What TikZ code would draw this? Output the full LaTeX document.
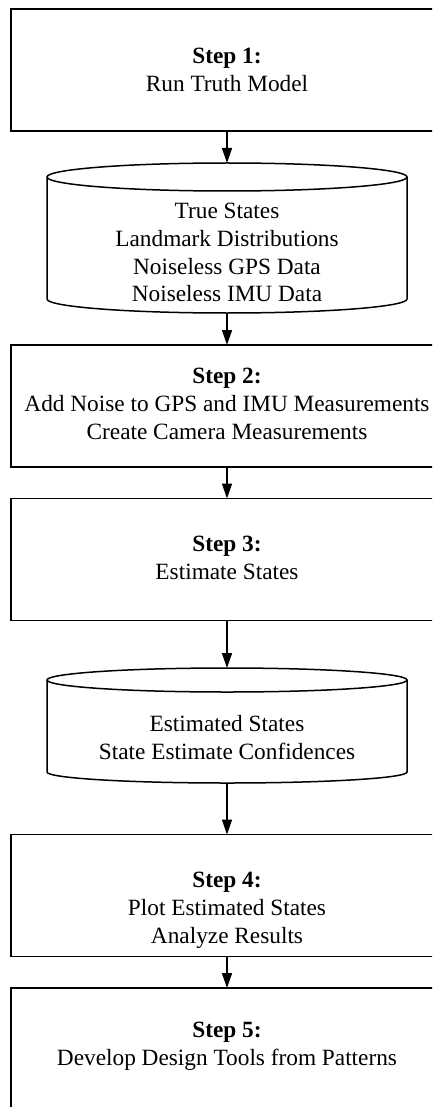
\documentclass[tikz,border=0pt]{standalone}
\usepackage{fontspec}
\setmainfont{Liberation Serif}
\usetikzlibrary{arrows.meta}
\begin{document}
\begin{tikzpicture}[x=1pt,y=1pt,
  boxnode/.style={draw=black,line width=1.5pt,minimum width=432pt,minimum height=122pt,inner sep=0pt,outer sep=0pt},
  cylframe/.style={inner sep=0pt,outer sep=0pt},
  cylline/.style={draw=black,line width=1.5pt},
  txt/.style={align=center,font=\fontsize{23.3}{27.8}\selectfont,inner sep=0pt},
  flow/.style={line width=1.5pt,-{Triangle[length=15pt,width=10pt]}}]
\useasboundingbox (0,0) rectangle (432,-1107);
\clip (0,0) rectangle (432,-1107);
% boxes
\node[boxnode] (b1) at (227,-70) {};
\node[boxnode] (b2) at (227,-406) {};
\node[boxnode] (b3) at (227,-559.5) {};
\node[boxnode] (b4) at (227,-895.5) {};
\node[boxnode] (b5) at (227,-1049) {};
% cylinders (frames used as anchors)
\node[cylframe,minimum width=360pt,minimum height=150pt] (c1) at (227,-238) {};
\node[cylframe,minimum width=360pt,minimum height=115pt] (c2) at (227,-725.5) {};
\draw[cylline] (47,-177) -- (47,-299) arc[start angle=180,end angle=360,x radius=180,y radius=14] -- (407,-177);
\draw[cylline] (227,-177) ellipse[x radius=180,y radius=14];
\draw[cylline] (47,-680) -- (47,-772) arc[start angle=180,end angle=360,x radius=180,y radius=11] -- (407,-680);
\draw[cylline] (227,-680) ellipse[x radius=180,y radius=12];
% texts
\node[txt] (t1) at (227,-70) {\textbf{Step 1:}\\Run Truth Model};
\node[txt] (tc1) at (227,-252.5) {True States\\Landmark Distributions\\Noiseless GPS Data\\Noiseless IMU Data};
\node[txt] (t2) at (227,-404) {\textbf{Step 2:}\\Add Noise to GPS and IMU Measurements\\Create Camera Measurements};
\node[txt] (t3) at (227,-558) {\textbf{Step 3:}\\Estimate States};
\node[txt] (tc2) at (227,-737.5) {Estimated States\\State Estimate Confidences};
\node[txt] (t4) at (227,-910.5) {\textbf{Step 4:}\\Plot Estimated States\\Analyze Results};
\node[txt] (t5) at (227,-1046) {\textbf{Step 5:}\\Develop Design Tools from Patterns};
% connectors
\draw[flow] (b1.south) -- (c1.north);
\draw[flow] (c1.south) -- (b2.north);
\draw[flow] (b2.south) -- (b3.north);
\draw[flow] (b3.south) -- (c2.north);
\draw[flow] (c2.south) -- (b4.north);
\draw[flow] (b4.south) -- (b5.north);
\end{tikzpicture}
\end{document}
